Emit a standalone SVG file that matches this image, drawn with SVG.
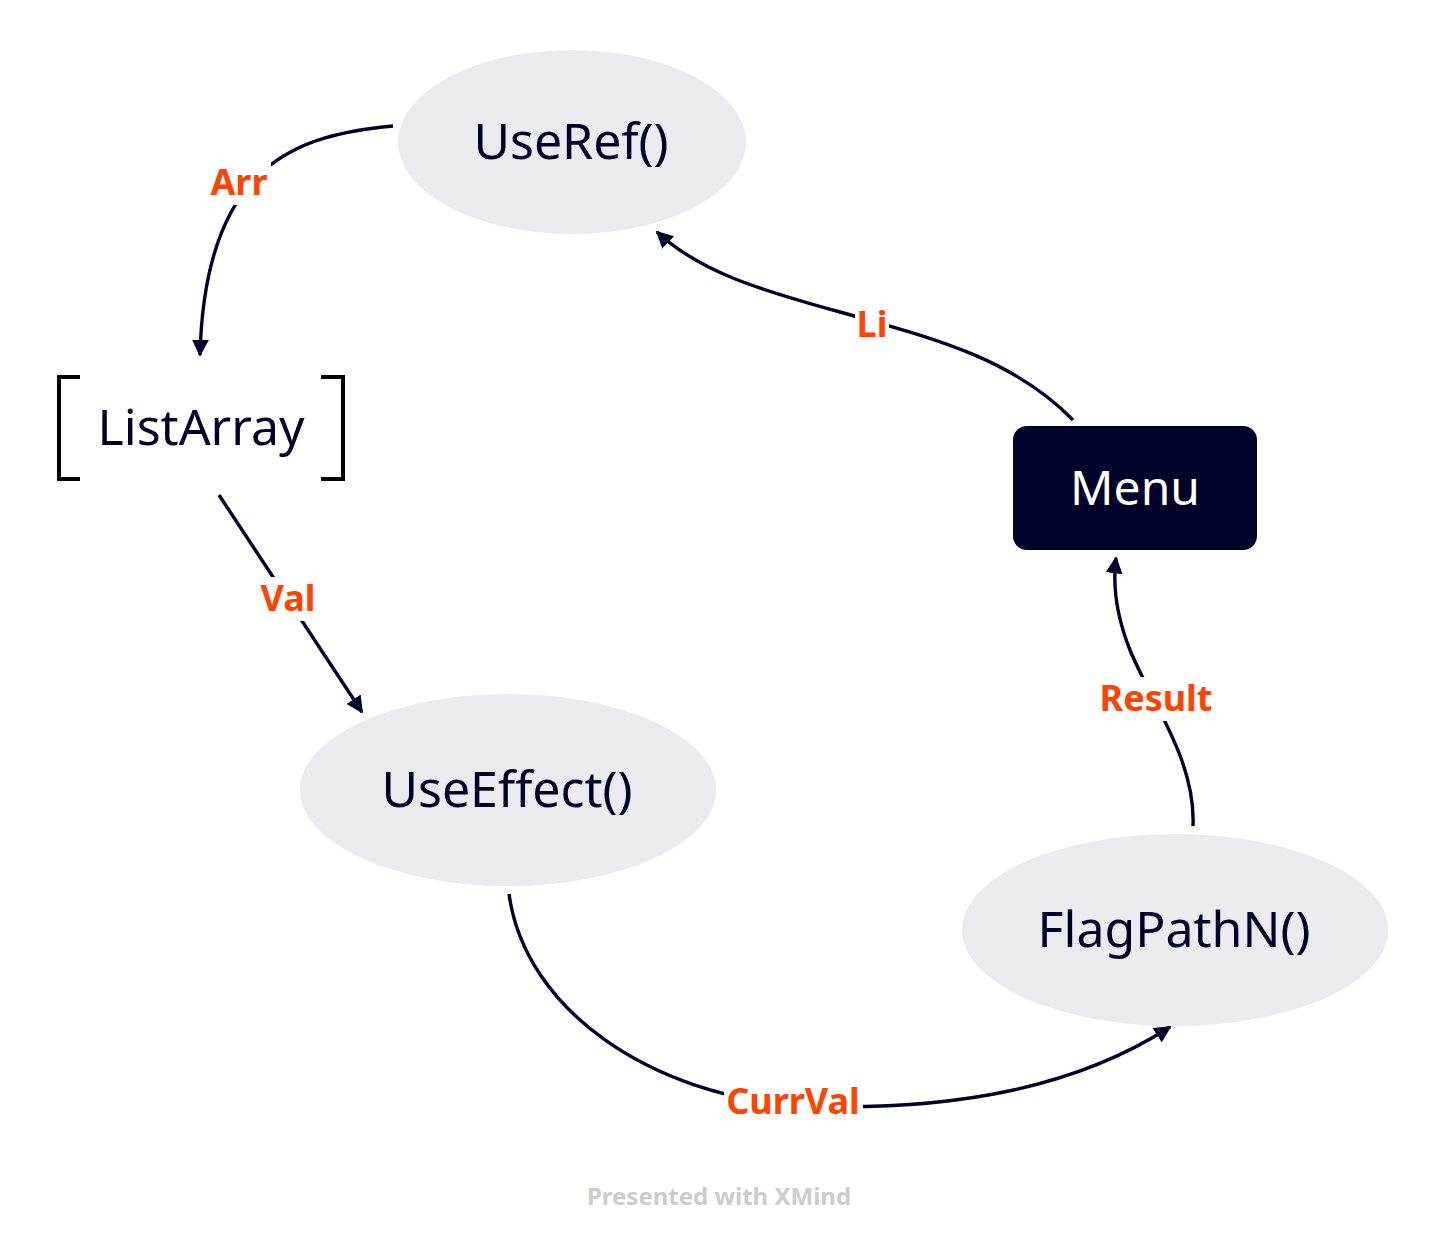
<svg xmlns="http://www.w3.org/2000/svg" width="1438" height="1246" viewBox="0 0 1438 1246">
<style>
.node{fill:#ebeaee}
.nt{font-family:"Noto Sans","Liberation Sans",sans-serif;font-size:50px;fill:#000229;text-anchor:middle;dominant-baseline:central}
.lb{font-family:"Noto Sans","Liberation Sans",sans-serif;font-size:36px;font-weight:bold;fill:#ff4300;text-anchor:middle;dominant-baseline:central}
.c{fill:none;stroke:#000229;stroke-width:3.4}
.bg{fill:#ffffff}
.br{fill:none;stroke:#000000;stroke-width:4}
</style>
<defs>
<marker id="ah" viewBox="0 0 10 10" refX="9" refY="5" markerWidth="5" markerHeight="5" orient="auto" markerUnits="strokeWidth">
<path d="M0,0 L10,5 L0,10 z" fill="#000229"/>
</marker>
</defs>
<rect width="1438" height="1246" fill="#ffffff"/>
<g id="connectors">
<g id="c-arr">
<path class="c" d="M393,126 C300,135 205,160 200,355" marker-end="url(#ah)"/>
<rect class="bg" x="208" y="161" width="63" height="44"/>
<text class="lb" x="239" y="181">Arr</text>
</g>
<g id="c-li">
<path class="c" d="M1073,420 C1010,355 920,335 840,312 C760,290 700,272 657,232" marker-end="url(#ah)"/>
<rect class="bg" x="855" y="303" width="34" height="42"/>
<text class="lb" x="872" y="323">Li</text>
</g>
<g id="c-val">
<path class="c" d="M219,495 L362,712" marker-end="url(#ah)"/>
<rect class="bg" x="256" y="577" width="66" height="44"/>
<text class="lb" x="288" y="597">Val</text>
</g>
<g id="c-currval">
<path class="c" d="M509,894 C525,1010 650,1095 800,1106 C960,1112 1080,1085 1170,1027" marker-end="url(#ah)"/>
<rect class="bg" x="724" y="1079" width="139" height="44"/>
<text class="lb" x="793" y="1100">CurrVal</text>
</g>
<g id="c-result">
<path class="c" d="M1193,826 C1196,760 1150,700 1130,650 C1118,620 1112,590 1116,558" marker-end="url(#ah)"/>
<rect class="bg" x="1097" y="677" width="118" height="44"/>
<text class="lb" x="1156" y="697">Result</text>
</g>
</g>
<g id="node-useref">
<ellipse class="node" cx="572" cy="142" rx="174" ry="92"/>
<text class="nt" x="571" y="140">UseRef()</text>
</g>
<g id="node-listarray">
<path class="br" d="M80,377 L59,377 L59,479 L80,479"/>
<path class="br" d="M321,377 L343,377 L343,479 L321,479"/>
<text class="nt" x="201" y="426">ListArray</text>
</g>
<g id="node-useeffect">
<ellipse class="node" cx="508" cy="790" rx="208" ry="96"/>
<text class="nt" x="507" y="788">UseEffect()</text>
</g>
<g id="node-flagpathn">
<ellipse class="node" cx="1175" cy="930" rx="213" ry="96"/>
<text class="nt" x="1174" y="928">FlagPathN()</text>
</g>
<g id="node-menu">
<rect x="1013" y="426" width="244" height="124" rx="14" fill="#000229"/>
<text class="nt" x="1135" y="486" style="fill:#ffffff;font-size:48px">Menu</text>
</g>
<text x="719" y="1195" font-family="Noto Sans, Liberation Sans, sans-serif" font-size="24" font-weight="bold" fill="#cccccc" text-anchor="middle" dominant-baseline="central">Presented with XMind</text>
</svg>
